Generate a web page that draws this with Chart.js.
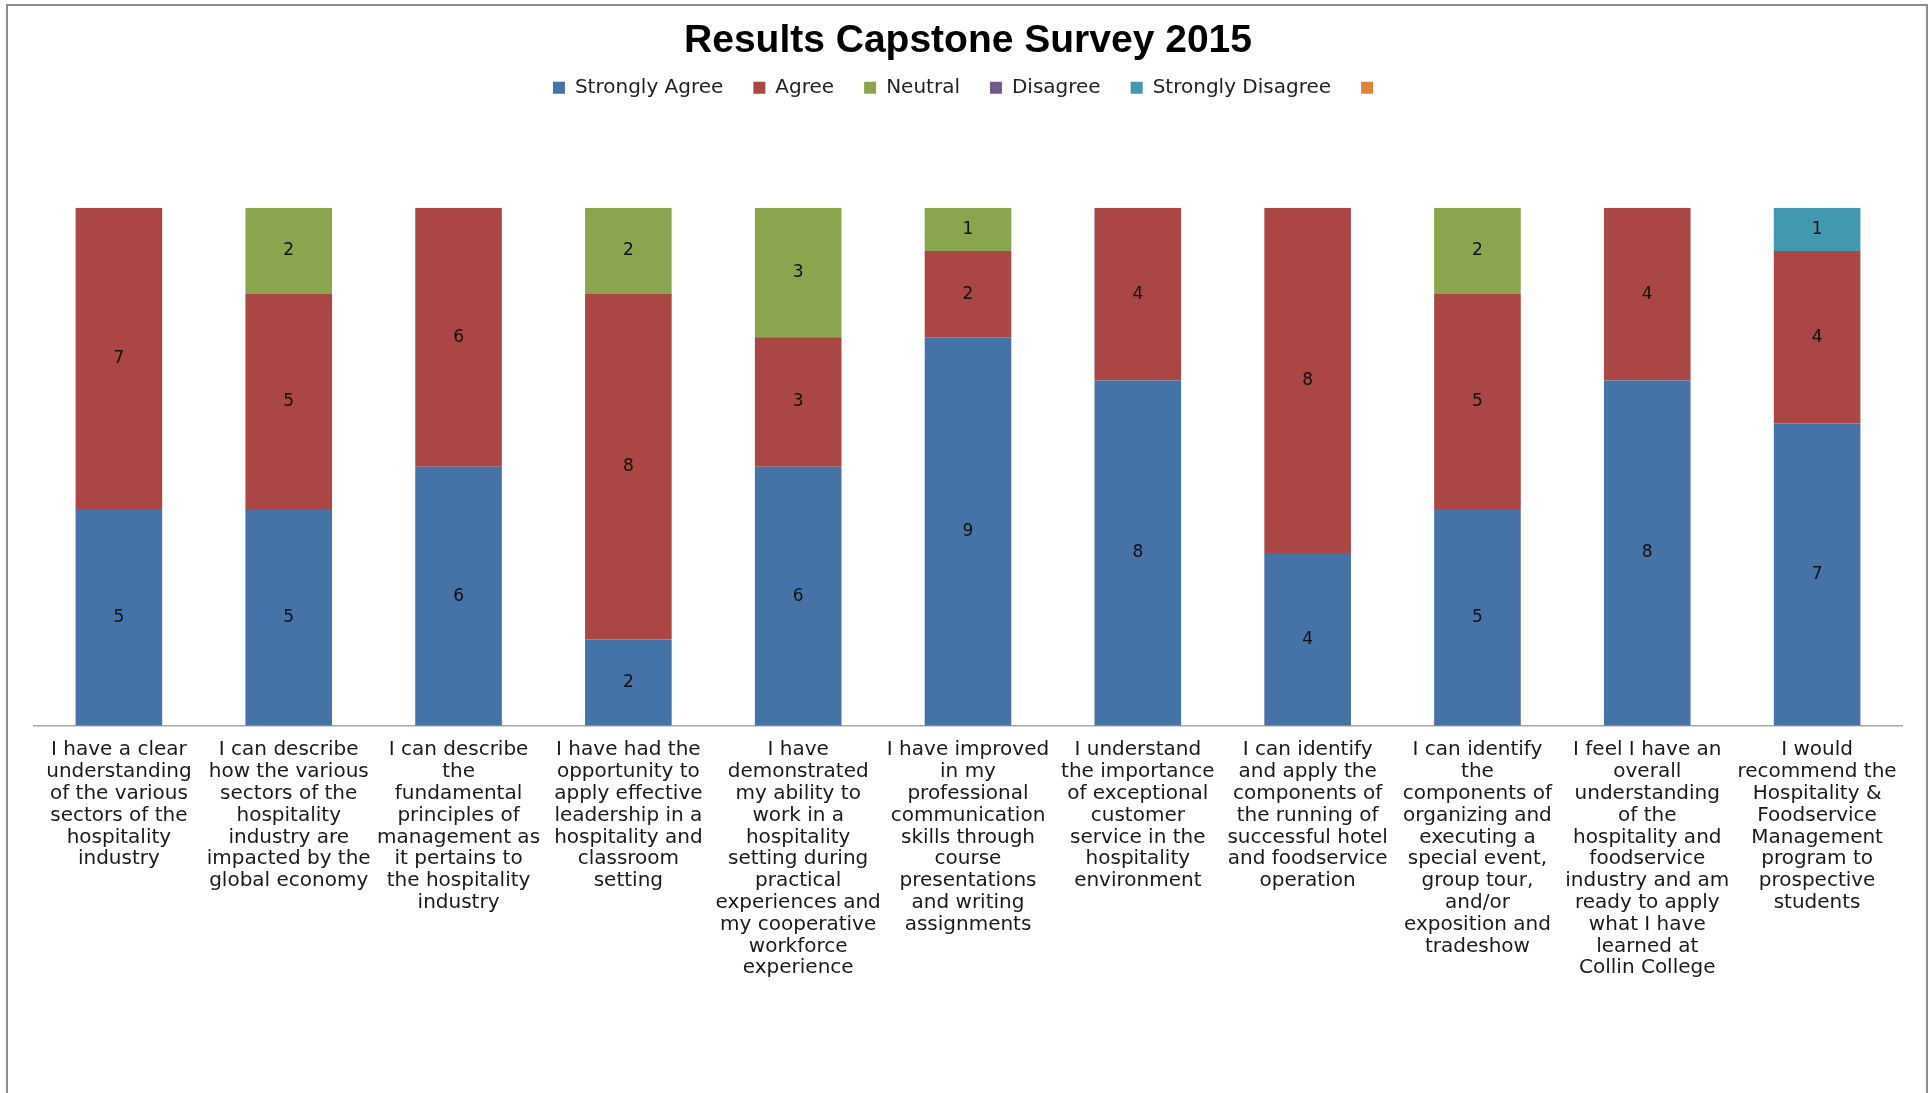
<!DOCTYPE html>
<html>
<head>
<meta charset="utf-8">
<title>Results Capstone Survey 2015</title>
<script src="https://cdn.jsdelivr.net/npm/chart.js@4/dist/chart.umd.min.js"></script>
<style>
    html, body { margin: 0; padding: 0; background: #fff; overflow: hidden; }
    #wrap { position: relative; width: 1931px; height: 1093px; }
    #frame {
        position: absolute; left: 6px; top: 4px; width: 1918px; height: 1200px;
        border: 2px solid #8c8c8c; border-bottom: none; pointer-events: none;
    }
</style>
</head>
<body>
<div id="wrap">
    <canvas id="surveyChart" width="1931" height="1093"></canvas>
    <div id="frame"></div>
</div>
<script>
// survey statements, wrapped as in the original chart
const statements = [
    ['I have a clear', 'understanding', 'of the various', 'sectors of the', 'hospitality', 'industry'],
    ['I can describe', 'how the various', 'sectors of the', 'hospitality', 'industry are', 'impacted by the', 'global economy'],
    ['I can describe', 'the', 'fundamental', 'principles of', 'management as', 'it pertains to', 'the hospitality', 'industry'],
    ['I have had the', 'opportunity to', 'apply effective', 'leadership in a', 'hospitality and', 'classroom', 'setting'],
    ['I have', 'demonstrated', 'my ability to', 'work in a', 'hospitality', 'setting during', 'practical', 'experiences and', 'my cooperative', 'workforce', 'experience'],
    ['I have improved', 'in my', 'professional', 'communication', 'skills through', 'course', 'presentations', 'and writing', 'assignments'],
    ['I understand', 'the importance', 'of exceptional', 'customer', 'service in the', 'hospitality', 'environment'],
    ['I can identify', 'and apply the', 'components of', 'the running of', 'successful hotel', 'and foodservice', 'operation'],
    ['I can identify', 'the', 'components of', 'organizing and', 'executing a', 'special event,', 'group tour,', 'and/or', 'exposition and', 'tradeshow'],
    ['I feel I have an', 'overall', 'understanding', 'of the', 'hospitality and', 'foodservice', 'industry and am', 'ready to apply', 'what I have', 'learned at', 'Collin College'],
    ['I would', 'recommend the', 'Hospitality &', 'Foodservice', 'Management', 'program to', 'prospective', 'students']
];

const stronglyAgree    = [5, 5, 6, 2, 6, 9, 8, 4, 5, 8, 7];
const agree            = [7, 5, 6, 8, 3, 2, 4, 8, 5, 4, 4];
const neutral          = [0, 2, 0, 2, 3, 1, 0, 0, 2, 0, 0];
const disagree         = [0, 0, 0, 0, 0, 0, 0, 0, 0, 0, 0];
const stronglyDisagree = [0, 0, 0, 0, 0, 0, 0, 0, 0, 0, 1];
const unnamedSeries    = [];   // empty sixth series, shown only in the legend

const seriesNames = ['Strongly Agree', 'Agree', 'Neutral', 'Disagree', 'Strongly Disagree', ''];
const seriesColors = ['#4572A7', '#AA4643', '#89A54E', '#71588F', '#4198AF', '#DB843D'];

const LEGEND_HEIGHT = 160;

// draw the value in the middle of every non-zero segment
const segmentLabels = {
    id: 'segmentLabels',
    afterDatasetsDraw(chart) {
        const ctx = chart.ctx;
        ctx.save();
        ctx.font = '17px "DejaVu Sans"';
        ctx.fillStyle = '#111';
        ctx.textAlign = 'center';
        ctx.textBaseline = 'middle';
        chart.data.datasets.forEach((ds, i) => {
            const meta = chart.getDatasetMeta(i);
            meta.data.forEach((bar, j) => {
                const v = ds.data[j];
                if (!v) return;
                const p = bar.getProps(['x', 'y', 'base'], true);
                ctx.fillText(String(v), p.x, (p.y + p.base) / 2);
            });
        });
        ctx.restore();
    }
};

// leave the empty band between the legend and the bars
const legendSpace = {
    id: 'legendSpace',
    beforeLayout(chart) {
        const lg = chart.legend;
        if (lg && !lg._spaced) {
            const fit = lg.fit;
            lg.fit = function () {
                fit.call(this);
                this.height = LEGEND_HEIGHT;
            };
            lg._spaced = true;
        }
    }
};

const datasets = [stronglyAgree, agree, neutral, disagree, stronglyDisagree, unnamedSeries].map((vals, i) => ({
    label: seriesNames[i],
    data: vals,
    backgroundColor: seriesColors[i],
    borderWidth: 0,
    barPercentage: 0.51,
    categoryPercentage: 1.0
}));

new Chart(document.getElementById('surveyChart'), {
    type: 'bar',
    data: { labels: statements, datasets: datasets },
    plugins: [segmentLabels, legendSpace],
    options: {
        responsive: false,
        animation: false,
        layout: { padding: { top: 6, left: 34, right: 29, bottom: 108.5 } },
        plugins: {
            title: {
                display: true,
                text: 'Results Capstone Survey 2015',
                color: '#000',
                font: { family: '"Liberation Sans", Arial, sans-serif', size: 39, weight: 'bold' },
                padding: { top: 12, bottom: -17 }
            },
            legend: {
                display: true,
                position: 'top',
                labels: {
                    color: '#222',
                    font: { family: '"DejaVu Sans"', size: 20 },
                    boxWidth: 12,
                    boxHeight: 12,
                    padding: 30
                }
            },
            tooltip: { enabled: false }
        },
        scales: {
            x: {
                stacked: true,
                grid: { display: false },
                border: { display: true, color: '#a8a8a8', width: 1.5 },
                ticks: {
                    color: '#1a1a1a',
                    font: { family: '"DejaVu Sans"', size: 20, lineHeight: '21.8px' },
                    padding: 5.5,
                    maxRotation: 0,
                    minRotation: 0,
                    autoSkip: false
                }
            },
            y: {
                stacked: true,
                display: false,
                min: 0,
                max: 12
            }
        }
    }
});
</script>
</body>
</html>
